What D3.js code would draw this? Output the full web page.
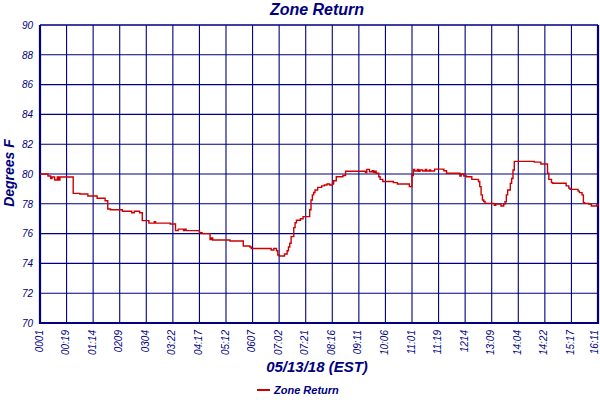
<!DOCTYPE html>
<html>
<head>
<meta charset="utf-8">
<script src="https://cdn.jsdelivr.net/npm/d3@7/dist/d3.min.js"></script>
<style>
  html, body { margin: 0; padding: 0; background: #fff; }
  svg { display: block; }
  text { font-family: "Liberation Sans", Arial, sans-serif; fill: #000080; }
</style>
</head>
<body>
<svg id="chart" width="600" height="400"></svg>
<script>
// ---- data ----
const chartTitle = "Zone Return";
const xTitle = "05/13/18 (EST)";
const yTitle = "Degrees F";
const seriesName = "Zone Return";
const xTickLabels = ["0001","00:19","01:14","0209","0304","03:22","04:17","05:12","0607","07:02","07:21",
  "08:16","09:11","10:06","11:01","11:19","1214","13:09","14:04","14:22","15:17","16:11"];
const yTicks = [70,72,74,76,78,80,82,84,86,88,90];
const samplesPerLabel = 20;
// sample index where the reading changes, and the reading from there on
const sampleIndex = [0,6,8,9,11,13,14,15,25,30,36,43,49,51,53,62,69,71,75,77,82,86,87,98,102,104,
  108,109,110,120,122,128,129,130,143,153,158,159,174,176,178,179,180,184,186,187,188,189,191,192,193,196,198,
  203,204,205,206,207,209,212,214,216,218,220,221,223,228,230,245,246,248,250,251,252,253,255,256,258,266,269,
  278,280,281,282,284,285,286,288,290,291,293,294,297,304,306,316,317,319,321,325,330,331,332,333,334,335,
  342,343,347,349,350,351,352,354,355,356,357,372,377,382,383,385,386,396,398,399,405,406,408,409,410,413,415,419,420];
const zoneTemp = [80.0,79.87,79.7,79.8,79.6,79.8,79.6,79.8,78.7,78.66,78.52,78.37,78.2,77.65,77.6,77.5,77.4,77.5,77.4,76.87,76.7,76.8,76.7,76.64,76.2,76.3,
  76.2,76.29,76.2,76.06,76.0,75.6,75.7,75.57,75.5,75.17,75.1,75.0,74.9,75.0,74.85,74.56,74.5,74.63,74.85,75.1,75.35,75.8,76.4,76.73,76.9,77.0,77.14,
  77.6,78.26,78.6,78.76,78.93,79.1,79.2,79.26,79.33,79.26,79.33,79.55,79.82,79.9,80.18,80.1,80.31,80.15,80.22,80.12,80.18,80.05,79.82,79.64,79.5,79.42,79.33,
  79.15,79.9,80.3,80.2,80.3,80.18,80.27,80.2,80.3,80.2,80.27,80.2,80.33,80.22,80.05,79.87,80.0,79.87,79.82,79.64,79.5,79.15,78.6,78.26,78.15,78.03,
  77.9,77.98,77.85,77.98,78.14,78.6,78.93,79.38,79.7,80.27,80.85,80.8,80.67,80.05,79.64,79.42,79.38,79.2,79.05,78.97,78.85,78.75,78.6,78.07,78.03,77.98,77.85,77.92,77.98];

// ---- layout ----
const navy = "#000080";
const red = "#cc0000";
const m = { left: 40, right: 598, top: 25, bottom: 323 };
const svg = d3.select("#chart");
const maxIndex = (xTickLabels.length - 1) * samplesPerLabel;

const x = d3.scaleLinear().domain([0, maxIndex]).range([m.left, m.right]);
const y = d3.scaleLinear().domain([70, 90]).range([m.bottom, m.top]);

// grid
const g = svg.append("g");
g.selectAll("line.vg").data(d3.range(1, xTickLabels.length - 1)).join("line")
  .attr("x1", d => x(d * samplesPerLabel)).attr("x2", d => x(d * samplesPerLabel))
  .attr("y1", m.top).attr("y2", m.bottom)
  .attr("stroke", navy).attr("stroke-width", 1.1);
g.selectAll("line.hg").data(yTicks.slice(1)).join("line")
  .attr("x1", m.left).attr("x2", m.right)
  .attr("y1", d => y(d)).attr("y2", d => y(d))
  .attr("stroke", navy).attr("stroke-width", 1.1);

// y axis labels
const yAxis = d3.axisLeft(y).tickValues(yTicks).tickSize(0).tickPadding(7);
const ya = svg.append("g").attr("transform", `translate(${m.left},0)`).call(yAxis);
ya.select(".domain").remove();
ya.selectAll("text").attr("font-size", 10).attr("font-style", "italic")
  .attr("fill", navy).style("font-family", '"Liberation Sans", Arial, sans-serif');

// x axis labels
const xAxis = d3.axisBottom(x)
  .tickValues(d3.range(xTickLabels.length).map(i => i * samplesPerLabel))
  .tickFormat((d, i) => xTickLabels[i]).tickSize(0);
const xa = svg.append("g").attr("transform", `translate(0,${m.bottom})`).call(xAxis);
xa.select(".domain").remove();
xa.selectAll("text")
  .attr("font-size", 10).attr("font-style", "italic").attr("fill", navy)
  .style("font-family", '"Liberation Sans", Arial, sans-serif')
  .attr("text-anchor", "end")
  .attr("transform", "rotate(-90)")
  .attr("x", -7).attr("y", 0)
  .attr("dy", (d, i) => i === xTickLabels.length - 1 ? "-0.05em" : "0.2em");

// axis frame lines
svg.append("line").attr("x1", m.left).attr("x2", m.left).attr("y1", m.top).attr("y2", m.bottom + 1)
  .attr("stroke", navy).attr("stroke-width", 2.2);
svg.append("line").attr("x1", m.right).attr("x2", m.right).attr("y1", m.top).attr("y2", m.bottom + 1)
  .attr("stroke", navy).attr("stroke-width", 2.2);
svg.append("line").attr("x1", m.left).attr("x2", m.right).attr("y1", m.bottom).attr("y2", m.bottom)
  .attr("stroke", navy).attr("stroke-width", 2);
svg.append("line").attr("x1", m.left).attr("x2", m.right).attr("y1", m.top).attr("y2", m.top)
  .attr("stroke", navy).attr("stroke-width", 1.1);

// data line
const pts = sampleIndex.map((s, i) => [s, zoneTemp[i]]);
const line = d3.line().x(d => x(d[0])).y(d => y(d[1])).curve(d3.curveStepAfter);
svg.append("path").datum(pts).attr("d", line)
  .attr("fill", "none").attr("stroke", red).attr("stroke-width", 1.4);

// titles
svg.append("text").attr("x", 317).attr("y", 15).attr("text-anchor", "middle")
  .attr("font-size", 16).attr("font-weight", "bold").attr("font-style", "italic").text(chartTitle);
svg.append("text").attr("x", 317).attr("y", 372).attr("text-anchor", "middle")
  .attr("font-size", 15).attr("font-weight", "bold").attr("font-style", "italic").text(xTitle);
svg.append("text").attr("transform", "translate(14,173) rotate(-90)").attr("text-anchor", "middle")
  .attr("font-size", 14).attr("font-weight", "bold").attr("font-style", "italic").text(yTitle);

// legend
svg.append("line").attr("x1", 257).attr("x2", 270).attr("y1", 390).attr("y2", 390)
  .attr("stroke", red).attr("stroke-width", 2);
svg.append("text").attr("x", 274).attr("y", 393.5)
  .attr("font-size", 11).attr("font-weight", "bold").attr("font-style", "italic").text(seriesName);
</script>
</body>
</html>
